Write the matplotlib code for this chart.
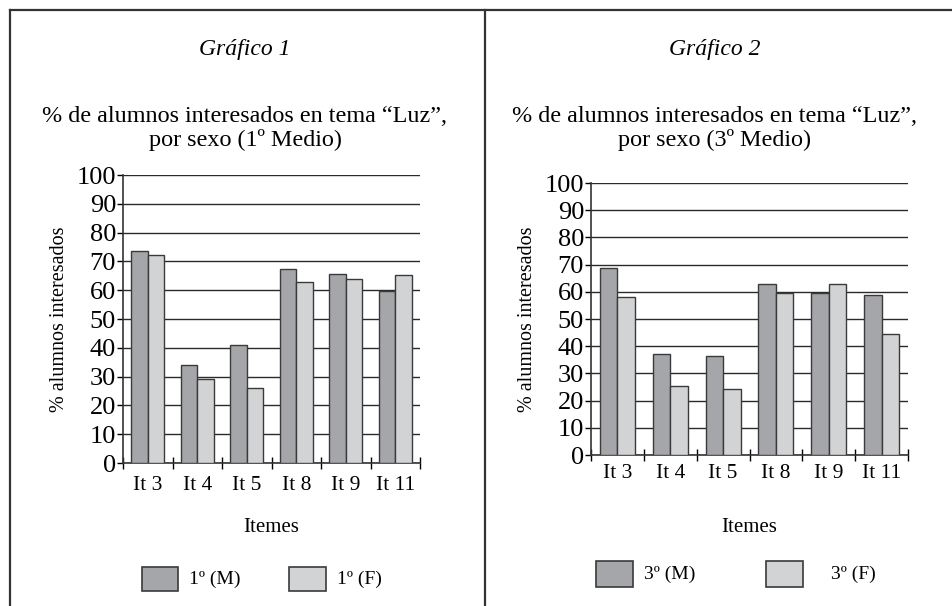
import numpy as np
import matplotlib.pyplot as plt
from matplotlib.lines import Line2D
from matplotlib.patches import Rectangle

plt.rcParams['font.family'] = ['Liberation Serif', 'DejaVu Serif']

items = ['It 3', 'It 4', 'It 5', 'It 8', 'It 9', 'It 11']
primero_m = [73.5, 34.2, 40.8, 67.4, 65.5, 59.8]
primero_f = [72.1, 29.0, 25.9, 62.8, 64.0, 65.2]
tercero_m = [68.8, 37.2, 36.5, 62.9, 59.6, 58.7]
tercero_f = [58.0, 25.2, 24.4, 59.6, 62.9, 44.5]

dark = '#a5a6aa'
light = '#d2d3d5'
edge = '#3a3a3a'

W, H = 952, 606
fig = plt.figure(figsize=(W / 100, H / 100), dpi=100)


def px(x, y):
    return x / W, 1 - y / H


# outer frame and divider
for (x0, y0), (x1, y1) in [((10, 10), (952, 10)), ((10, 10), (10, 606)),
                           ((485, 10), (485, 606))]:
    a, b = px(x0, y0)
    c, d = px(x1, y1)
    fig.add_artist(Line2D([a, c], [b, d], color='#333333', lw=1.6))


def panel(box, male, female, num, grade, cx, ylab_x, label_pad, legend):
    left, top, right, bottom = box
    ax = fig.add_axes([left / W, 1 - bottom / H, (right - left) / W, (bottom - top) / H])
    x = np.arange(len(items))
    w = 0.33
    ax.bar(x - w / 2, male, w, color=dark, edgecolor=edge, lw=1, zorder=3)
    ax.bar(x + w / 2, female, w, color=light, edgecolor=edge, lw=1, zorder=3)
    ax.set_xlim(-0.5, len(items) - 0.5)
    ax.set_ylim(0, 100)
    ax.set_yticks(range(0, 101, 10))
    ax.yaxis.grid(True, color='#2a2a2a', lw=1, zorder=0)
    ax.set_xticks(np.arange(-0.5, len(items), 1.0))
    ax.set_xticks(x, minor=True)
    ax.set_xticklabels([])
    ax.set_xticklabels(items, minor=True)
    ax.tick_params(axis='x', which='major', direction='inout', length=9, width=1)
    ax.tick_params(axis='x', which='minor', length=0, labelsize=15.5, pad=label_pad)
    ax.tick_params(axis='y', direction='out', length=4, width=1, labelsize=19, pad=1)
    for s in ['top', 'right']:
        ax.spines[s].set_visible(False)
    for s in ['left', 'bottom']:
        ax.spines[s].set_color('#333333')
        ax.spines[s].set_linewidth(1.2)

    fig.text(*px(cx, 55), f'Gráfico {num}', style='italic', fontsize=17,
             ha='center', va='baseline')
    fig.text(*px(cx, 122), '% de alumnos interesados en tema “Luz”,',
             fontsize=17.4, ha='center', va='baseline')
    fig.text(*px(cx, 146), f'por sexo ({grade}º Medio)',
             fontsize=17.4, ha='center', va='baseline')
    fig.text(*px(ylab_x, (top + bottom) / 2), '% alumnos interesados',
             rotation=90, fontsize=14.5, ha='center', va='center')
    fig.text(*px((left + right) / 2, 527), 'Itemes', fontsize=15,
             ha='center', va='center')

    # legend boxes
    for (x0, y0, x1, y1, tx, txt, col) in legend:
        a, b = px(x0, y1)
        fig.add_artist(Rectangle((a, b), (x1 - x0) / W, (y1 - y0) / H,
                                 facecolor=col, edgecolor=edge, lw=1.2))
        fig.text(*px(tx, (y0 + y1) / 2), txt, fontsize=14, ha='left', va='center')


panel((123, 175, 420, 463), primero_m, primero_f, 1, 1, 245, 60, 9,
      [(142, 567, 178, 591, 189, '1º (M)', dark),
       (289, 567, 326, 591, 337, '1º (F)', light)])
panel((591, 183, 908, 455), tercero_m, tercero_f, 2, 3, 715, 528, 6.5,
      [(596, 561, 633, 587, 644, '3º (M)', dark),
       (766, 561, 803, 587, 831, '3º (F)', light)])

fig.savefig('out.png', dpi=100)
